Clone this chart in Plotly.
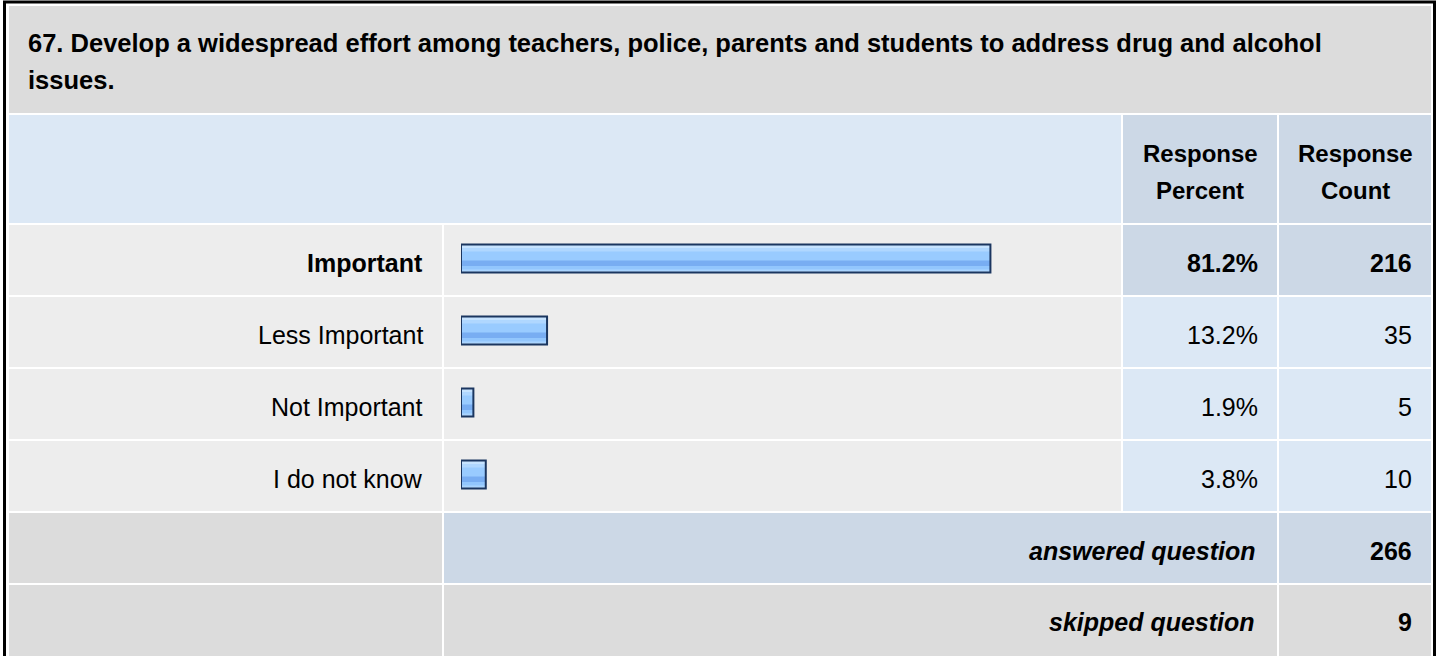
import plotly.graph_objects as go

# ---------------- data ----------------
question = ["67. Develop a widespread effort among teachers, police, parents and students to address drug and alcohol",
            "issues."]
header_percent = ["Response", "Percent"]
header_count = ["Response", "Count"]
categories = ["Important", "Less Important", "Not Important", "I do not know"]
percents = [81.2, 13.2, 1.9, 3.8]
counts = [216, 35, 5, 10]
answered_label = "answered question"
answered_value = 266
skipped_label = "skipped question"
skipped_value = 9

# ---------------- geometry / style ----------------
W, H = 1437, 656
FONT = "Liberation Sans, Arial, sans-serif"
FS = 25
FS_TITLE = 25.5
FS_HEAD = 24

TITLE_BG = "#DCDCDC"
HEAD_LIGHT = "#DCE8F5"
HEAD_DARK = "#CCD8E6"
ROW_BG = "#EDEDED"
VAL_LIGHT = "#DCE8F5"
GRAY = "#DCDCDC"

colA = (9, 442)
colB = (444, 1121)
colC = (1123, 1277)
colD = (1279, 1431)
title_y = (6, 113)
head_y = (115, 223)
row_ys = [(225, 295), (297, 367), (369, 439), (441, 511)]
ans_y = (513, 583)
skip_y = (585, 662)


def px(x):
    return x / W


def py(y):
    return 1 - y / H


shapes = []


def cell(x0, x1, y0, y1, color):
    shapes.append(dict(type="rect", xref="paper", yref="paper",
                       x0=px(x0), x1=px(x1), y0=py(y1), y1=py(y0),
                       fillcolor=color, line=dict(width=0), layer="below"))


annotations = []


def text(x, y, s, anchor="left", size=FS):
    annotations.append(dict(xref="paper", yref="paper", x=px(x), y=py(y),
                            text=s, showarrow=False, xanchor=anchor, yanchor="middle",
                            font=dict(family=FONT, size=size, color="#000000")))


# title
cell(colA[0], colD[1], title_y[0], title_y[1], TITLE_BG)
text(26, 42.5, "<b>" + question[0] + "</b>", size=FS_TITLE)
text(26, 79.5, "<b>" + question[1] + "</b>", size=FS_TITLE)

# header
cell(colA[0], colB[1], head_y[0], head_y[1], HEAD_LIGHT)
cell(colC[0], colC[1], head_y[0], head_y[1], HEAD_DARK)
cell(colD[0], colD[1], head_y[0], head_y[1], HEAD_DARK)
cx_c = (colC[0] + colC[1]) / 2
cx_d = (colD[0] + colD[1]) / 2 + 0.5
for i, (a, b) in enumerate(zip(header_percent, header_count)):
    yy = 153.5 + i * 37
    text(cx_c, yy, "<b>" + a + "</b>", anchor="center", size=FS_HEAD)
    text(cx_d, yy, "<b>" + b + "</b>", anchor="center", size=FS_HEAD)

# answer rows
top_idx = percents.index(max(percents))
for i, (cat, p, c) in enumerate(zip(categories, percents, counts)):
    y0, y1 = row_ys[i]
    hi = i == top_idx
    cell(colA[0], colA[1], y0, y1, ROW_BG)
    cell(colB[0], colB[1], y0, y1, ROW_BG)
    cell(colC[0], colC[1], y0, y1, HEAD_DARK if hi else VAL_LIGHT)
    cell(colD[0], colD[1], y0, y1, HEAD_DARK if hi else VAL_LIGHT)
    yc = (y0 + y1) / 2 + 3
    wrap = (lambda s: "<b>" + s + "</b>") if hi else (lambda s: s)
    text(425, yc, wrap(cat), anchor="right")
    text(1260, yc, wrap(f"{p:.1f}%"), anchor="right")
    text(1414, yc, wrap(str(c)), anchor="right")

# summary rows
cell(colA[0], colA[1], ans_y[0], ans_y[1], GRAY)
cell(colB[0], colC[1], ans_y[0], ans_y[1], HEAD_DARK)
cell(colD[0], colD[1], ans_y[0], ans_y[1], HEAD_DARK)
text(1257, 550.5, "<b><i>" + answered_label + "</i></b>", anchor="right")
text(1414, 550.5, "<b>" + str(answered_value) + "</b>", anchor="right")

cell(colA[0], colA[1], skip_y[0], skip_y[1], GRAY)
cell(colB[0], colC[1], skip_y[0], skip_y[1], GRAY)
cell(colD[0], colD[1], skip_y[0], skip_y[1], GRAY)
text(1257, 622, "<b><i>" + skipped_label + "</i></b>", anchor="right")
text(1414, 622, "<b>" + str(skipped_value) + "</b>", anchor="right")

# outer frame
shapes.append(dict(type="rect", xref="paper", yref="paper",
                   x0=px(4.5), x1=px(1434.5), y0=py(720), y1=py(2),
                   fillcolor="rgba(0,0,0,0)", line=dict(color="#000000", width=3), layer="above"))

# ---------------- bars ----------------
fig = go.Figure()
ROWPX = 72.0
stripes = [
    # (offset px from bar centre, height px, colour)
    (-13, 26, "#99CBFF"),
    (-13, 3, "#C6E3FF"),
    (-10, 3, "#B0D7FF"),
    (2, 5.5, "#78ADF2"),
    (7.5, 3.5, "#92C6FD"),
    (11, 2, "#A9D4FF"),
]
for off, hgt, col in stripes:
    fig.add_trace(go.Bar(x=percents, y=categories, orientation="h",
                         offset=off / ROWPX, width=hgt / ROWPX,
                         marker=dict(color=col, line=dict(width=0)),
                         hoverinfo="skip", showlegend=False))
fig.add_trace(go.Bar(x=percents, y=categories, orientation="h",
                     offset=-14 / ROWPX, width=28 / ROWPX,
                     marker=dict(color="rgba(0,0,0,0)", line=dict(color="#1B3660", width=2)),
                     hoverinfo="skip", showlegend=False))

fig.update_layout(
    width=W, height=H,
    margin=dict(l=0, r=0, t=0, b=0),
    paper_bgcolor="#FFFFFF", plot_bgcolor="rgba(0,0,0,0)",
    barmode="overlay",
    xaxis=dict(domain=[px(461), px(461 + 652)], range=[0, 100], visible=False, fixedrange=True),
    yaxis=dict(domain=[py(510.5), py(222.5)], type="category", categoryarray=categories,
               range=[3.5, -0.5], visible=False, fixedrange=True),
    shapes=shapes,
    annotations=annotations,
)

fig.write_html("out.html", config={"displayModeBar": False},
               post_script="document.body.style.margin='0px';document.body.style.overflow='hidden';")
